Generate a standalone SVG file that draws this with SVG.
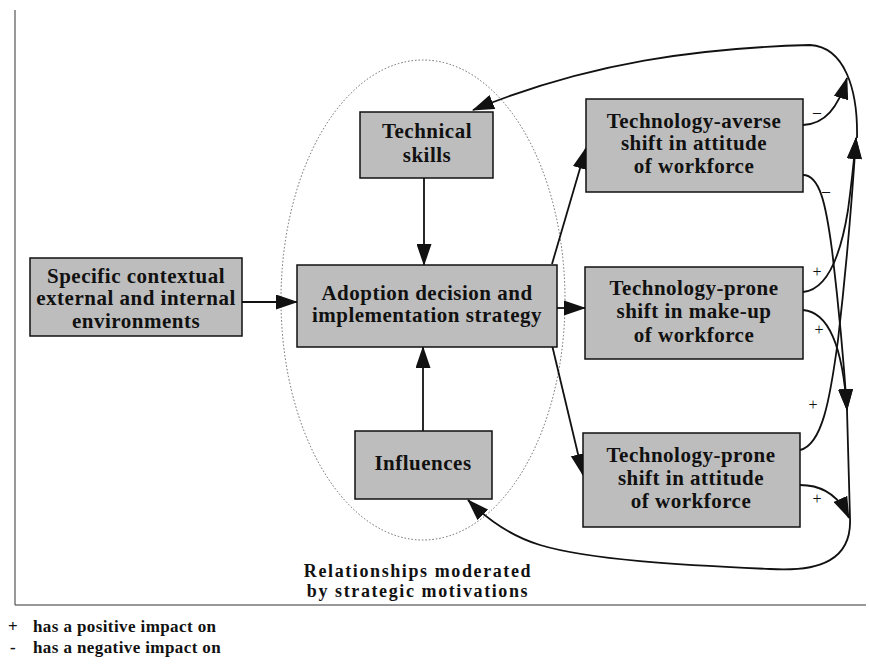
<svg xmlns="http://www.w3.org/2000/svg" width="869" height="667" viewBox="0 0 869 667">
<style>
.box{fill:#bdbdbd;stroke:#111;stroke-width:1.5}
.t{font-family:"Liberation Serif","Times New Roman",serif;font-weight:bold;font-size:21px;letter-spacing:0.5px;fill:#111;text-anchor:middle}
.cap{font-family:"Liberation Serif","Times New Roman",serif;font-weight:bold;font-size:18px;letter-spacing:1.6px;fill:#111;text-anchor:middle}
.s{font-family:"Liberation Serif","Times New Roman",serif;font-size:16px;fill:#111;text-anchor:middle}
.lg{font-family:"Liberation Serif","Times New Roman",serif;font-weight:bold;font-size:17px;letter-spacing:0.4px;fill:#111}
.c{fill:none;stroke:#111;stroke-width:1.8}
</style>
<defs>
<marker id="ah" markerWidth="22" markerHeight="15" refX="21" refY="7.5" orient="auto" markerUnits="userSpaceOnUse">
<path d="M0,0 L22,7.5 L0,15 Z" fill="#111"/>
</marker>
</defs>
<rect width="869" height="667" fill="#fff"/>
<polyline points="15,10 15,605 866,605" fill="none" stroke="#333" stroke-width="1"/>
<ellipse cx="423" cy="300" rx="142" ry="240" fill="none" stroke="#666" stroke-width="1" stroke-dasharray="1.5 2"/>

<g id="connectors">
<line class="c" x1="242" y1="302" x2="297" y2="302" marker-end="url(#ah)"/>
<line class="c" x1="424" y1="178" x2="424" y2="265" marker-end="url(#ah)"/>
<line class="c" x1="423" y1="431" x2="423" y2="347" marker-end="url(#ah)"/>
<line class="c" x1="557" y1="308" x2="585" y2="308" marker-end="url(#ah)"/>
<line class="c" x1="552" y1="264" x2="586" y2="148" marker-end="url(#ah)"/>
<line class="c" x1="552" y1="345" x2="583" y2="475" marker-end="url(#ah)"/>
<path class="c" d="M857 138 C858 90 845 47 810 45 C700 48 590 62 473 110" marker-end="url(#ah)"/>
<path class="c" d="M847 410 L850 518 C852 560 820 572 770 569 C680 565 590 560 540 545 C510 536 488 520 468 500" marker-end="url(#ah)"/>
<path class="c" d="M803 125 C825 124 838 108 847 78" marker-end="url(#ah)"/>
<path class="c" d="M803 175 C820 175 826 205 832 250 C838 300 843 350 847 410" marker-end="url(#ah)"/>
<path class="c" d="M803 292 C825 290 840 260 848 210 C852 180 854 160 856 138" marker-end="url(#ah)"/>
<path class="c" d="M803 310 C830 312 843 350 847 410" marker-end="url(#ah)"/>
<path class="c" d="M800 450 C822 445 830 400 838 340 C845 280 852 200 856 138" marker-end="url(#ah)"/>
<path class="c" d="M800 485 C825 485 840 498 849 518" marker-end="url(#ah)"/>
<text class="s" x="817" y="117">–</text>
<text class="s" x="826" y="196">–</text>
<text class="s" x="817" y="277">+</text>
<text class="s" x="819" y="335">+</text>
<text class="s" x="813" y="410">+</text>
<text class="s" x="817" y="504">+</text>
</g>

<g id="n-specific">
<rect class="box" x="30" y="258" width="212" height="78"/>
<text class="t" x="136" y="283">Specific contextual</text>
<text class="t" x="136" y="305">external and internal</text>
<text class="t" x="136" y="328">environments</text>
</g>
<g id="n-technical">
<rect class="box" x="360" y="112" width="133" height="66"/>
<text class="t" x="427" y="138">Technical</text>
<text class="t" x="427" y="162">skills</text>
</g>
<g id="n-adoption">
<rect class="box" x="297" y="265" width="260" height="82"/>
<text class="t" x="427" y="300">Adoption decision and</text>
<text class="t" x="427" y="322">implementation strategy</text>
</g>
<g id="n-influences">
<rect class="box" x="355" y="431" width="137" height="68"/>
<text class="t" x="423" y="470">Influences</text>
</g>
<g id="n-averse">
<rect class="box" x="586" y="99" width="217" height="93"/>
<text class="t" x="694" y="128">Technology-averse</text>
<text class="t" x="694" y="150">shift in attitude</text>
<text class="t" x="694" y="173">of workforce</text>
</g>
<g id="n-makeup">
<rect class="box" x="585" y="267" width="218" height="92"/>
<text class="t" x="694" y="295">Technology-prone</text>
<text class="t" x="694" y="318">shift in make-up</text>
<text class="t" x="694" y="342">of workforce</text>
</g>
<g id="n-attitude">
<rect class="box" x="583" y="433" width="217" height="94"/>
<text class="t" x="691" y="462">Technology-prone</text>
<text class="t" x="691" y="485">shift in attitude</text>
<text class="t" x="691" y="508">of workforce</text>
</g>

<g id="caption">
<text class="cap" x="418" y="577">Relationships moderated</text>
<text class="cap" x="418" y="597">by strategic motivations</text>
</g>
<g id="legend">
<text class="lg" x="8" y="632">+</text>
<text class="lg" x="33" y="632">has a positive impact on</text>
<text class="lg" x="10" y="653">-</text>
<text class="lg" x="33" y="653">has a negative impact on</text>
</g>
</svg>
